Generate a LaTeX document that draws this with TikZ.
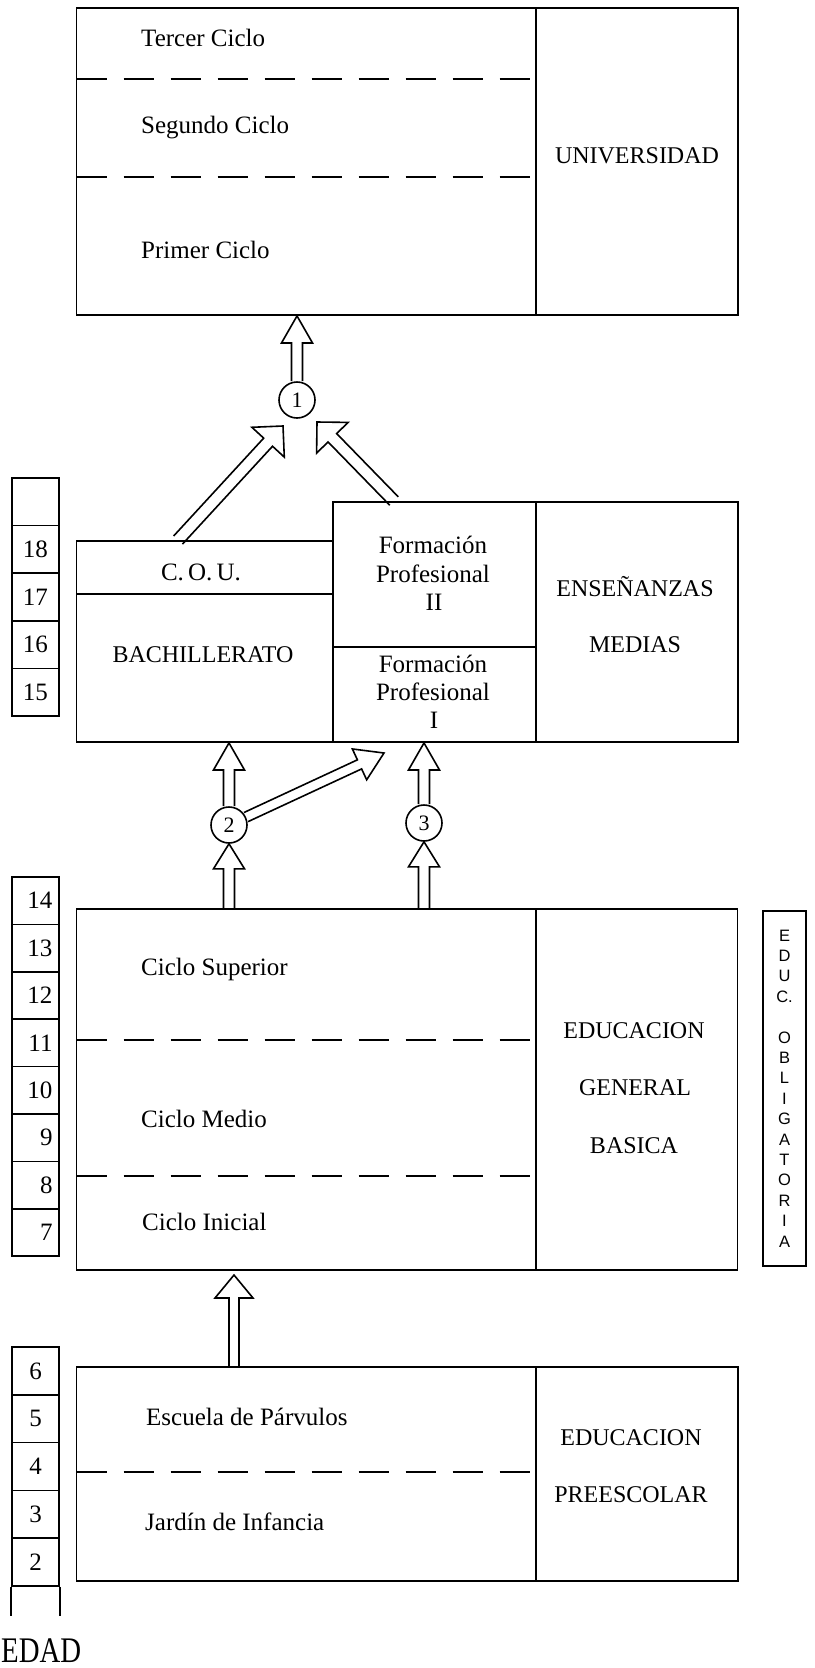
\documentclass[tikz,border=0pt]{standalone}
\usepackage{fontspec}
\setmainfont{Liberation Serif}
\newfontfamily\sansf{Liberation Sans}
\usetikzlibrary{calc}

\tikzset{
  box/.style={draw, line width=1.9pt, inner sep=0pt, rectangle},
  divl/.style={line width=1.7pt},
  dashl/.style={line width=1.7pt, dash pattern=on 30pt off 17pt},
  arr/.style={line width=1.6pt, line join=miter},
  lbl/.style={font=\fontsize{25}{28}\selectfont, inner sep=0pt},
  ttl/.style={font=\fontsize{24}{28}\selectfont, inner sep=0pt},
  agecell/.style={draw, line width=1.7pt, minimum width=47pt, minimum height=47.6pt, inner sep=0pt, font=\fontsize{25}{28}\selectfont},
  agecellr/.style={agecell, text width=34pt, align=right},
  num/.style={circle, draw, line width=1.6pt, minimum size=36pt, inner sep=0pt, font=\fontsize{22}{24}\selectfont},
  obl/.style={font=\sansf\fontsize{16.5}{18}\selectfont, inner sep=0pt},
}

% hollow arrow: from, to, head length, head half width, shaft half width
\newcommand{\hollowarrow}[5]{%
  \coordinate (hb) at ($(#2)!#3!(#1)$);
  \draw[arr] ($(#1)!#5!90:(#2)$) -- ($(hb)!#5!90:(#2)$) -- ($(hb)!#4!90:(#2)$) -- (#2)
    -- ($(hb)!#4!-90:(#2)$) -- ($(hb)!#5!-90:(#2)$) -- ($(#1)!#5!-90:(#2)$);
}

\begin{document}
\begin{tikzpicture}[x=1pt,y=-1pt]
\useasboundingbox (0,0) rectangle (814,1668);

% ---------------- UNIVERSIDAD ----------------
\node[box, minimum width=661.5pt, minimum height=307pt] (uni) at (407.25,161.5) {};
\draw[divl] (536,8) -- (536,315);
\draw[dashl] (76.5,79) -- (536,79);
\draw[dashl] (76.5,177) -- (536,177);
\node[lbl, anchor=base west] (tc) at (141,46) {Tercer Ciclo};
\node[lbl, anchor=base west] (sc) at (141,133) {Segundo Ciclo};
\node[lbl, anchor=base west] (pc) at (141,258) {Primer Ciclo};
\node[ttl, anchor=base] (univ) at (637,163) {UNIVERSIDAD};

% ---------------- ENSEÑANZAS MEDIAS ----------------
\node[box, minimum width=256.5pt, minimum height=201pt] (bach) at (204.75,641.5) {};
\node[box, minimum width=203pt, minimum height=240pt] (fp) at (434.5,622) {};
\node[box, minimum width=202pt, minimum height=240pt] (em) at (637,622) {};
\draw[divl] (76.5,594) -- (333,594);
\draw[divl] (333,647) -- (536,647);
\node[lbl, anchor=base] (cou) at (201,580) {C.\,O.\,U.};
\node[ttl, anchor=base] (bachl) at (203,662) {BACHILLERATO};
\node[lbl, anchor=base] (fp2a) at (433,553) {Formación};
\node[lbl, anchor=base] (fp2b) at (433,582) {Profesional};
\node[lbl, anchor=base] (fp2c) at (434,610) {II};
\node[lbl, anchor=base] (fp1a) at (433,672) {Formación};
\node[lbl, anchor=base] (fp1b) at (433,700) {Profesional};
\node[lbl, anchor=base] (fp1c) at (434,728) {I};
\node[ttl, anchor=base] (ens) at (635,596) {ENSEÑANZAS};
\node[ttl, anchor=base] (med) at (635,652) {MEDIAS};

% ---------------- EGB ----------------
\node[box, minimum width=661pt, minimum height=361pt] (egb) at (407,1089.5) {};
\draw[divl] (536,909) -- (536,1270);
\draw[dashl] (76.5,1040) -- (536,1040);
\draw[dashl] (76.5,1176) -- (536,1176);
\node[lbl, anchor=base west] (csup) at (141,975) {Ciclo Superior};
\node[lbl, anchor=base west] (cmed) at (141,1127) {Ciclo Medio};
\node[lbl, anchor=base west] (cini) at (142,1230) {Ciclo Inicial};
\node[ttl, anchor=base] (egb1) at (634,1038) {EDUCACION};
\node[ttl, anchor=base] (egb2) at (635,1095) {GENERAL};
\node[ttl, anchor=base] (egb3) at (634,1153) {BASICA};

% ---------------- PREESCOLAR ----------------
\node[box, minimum width=661.5pt, minimum height=214pt] (pre) at (407.25,1474) {};
\draw[divl] (536,1367) -- (536,1581);
\draw[dashl] (76.5,1472) -- (536,1472);
\node[lbl, anchor=base west] (esc) at (146,1425) {Escuela de Párvulos};
\node[lbl, anchor=base west] (jar) at (145,1530) {Jardín de Infancia};
\node[ttl, anchor=base] (pre1) at (631,1445) {EDUCACION};
\node[ttl, anchor=base] (pre2) at (631,1502) {PREESCOLAR};

% ---------------- EDUC. OBLIGATORIA ----------------
\node[box, line width=1.7pt, minimum width=43pt, minimum height=355pt] (oblbox) at (784.5,1088.5) {};
\foreach \t/\k in {E/0,D/1,U/2,C./3,O/5,B/6,L/7,I/8,G/9,A/10,T/11,O/12,R/13,I/14,A/15}
  \node[obl] (ob\k) at (784.5,935.5+\k*20.4) {\t};

% ---------------- EDAD column ----------------
\node[agecell] (ageb) at (35.5,501.8) {};
\foreach \n [count=\k from 1] in {18,17,16,15}
  \node[agecell] (age\n) at (35.5,501.8+\k*47.6) {\n};
\foreach \n [count=\k from 0] in {14,13,12,11,10,9,8,7}
  \node[agecellr, minimum height=47.4pt] (age\n) at (35.5,900.7+\k*47.4) {\n};
\foreach \n [count=\k from 0] in {6,5,4,3,2}
  \node[agecell, minimum height=47.8pt] (age\n) at (35.5,1370.9+\k*47.8) {\n};
\draw[divl] (age2.south west) -- ++(0,29);
\draw[divl] (age2.south east) -- ++(0,29);
\node[inner sep=0pt, anchor=base west] (edad) at (1,1662) {\scalebox{0.8}[1]{\fontsize{36}{40}\selectfont EDAD}};

% ---------------- circles ----------------
\node[num] (c1) at (297,400) {1};
\node[num] (c2) at (229,825) {2};
\node[num] (c3) at (424,823) {3};

% ---------------- arrows ----------------
\coordinate (a1e) at (c1.north |- uni.south);
\hollowarrow{c1.north}{a1e}{27pt}{15.5pt}{5.5pt}

\coordinate (a2s) at ($(bach.north west)+(102.5,0)$);
\coordinate (t1) at (283,426);
\hollowarrow{a2s}{t1}{22pt}{22pt}{6pt}

\coordinate (a3s) at ($(fp.north west)+(62,0)$);
\coordinate (t2) at (317,422);
\hollowarrow{a3s}{t2}{22pt}{22pt}{6pt}

\coordinate (a4e) at (c2.north |- bach.south);
\hollowarrow{c2.north}{a4e}{27pt}{15.5pt}{5.5pt}

\coordinate (a5s) at (c2.south |- egb.north);
\hollowarrow{a5s}{c2.south}{25pt}{15.5pt}{5.5pt}

\coordinate (t4) at (384,753);
\hollowarrow{c2.25}{t4}{27pt}{17pt}{5pt}

\coordinate (a7e) at (c3.north |- fp.south);
\hollowarrow{c3.north}{a7e}{27pt}{15.5pt}{5.5pt}

\coordinate (a8s) at (c3.south |- egb.north);
\hollowarrow{a8s}{c3.south}{25pt}{15.5pt}{5.5pt}

\coordinate (t5) at (234,1275);
\coordinate (a9s) at (t5 |- pre.north);
\hollowarrow{a9s}{t5}{23pt}{19pt}{5pt}

\end{tikzpicture}
\end{document}
